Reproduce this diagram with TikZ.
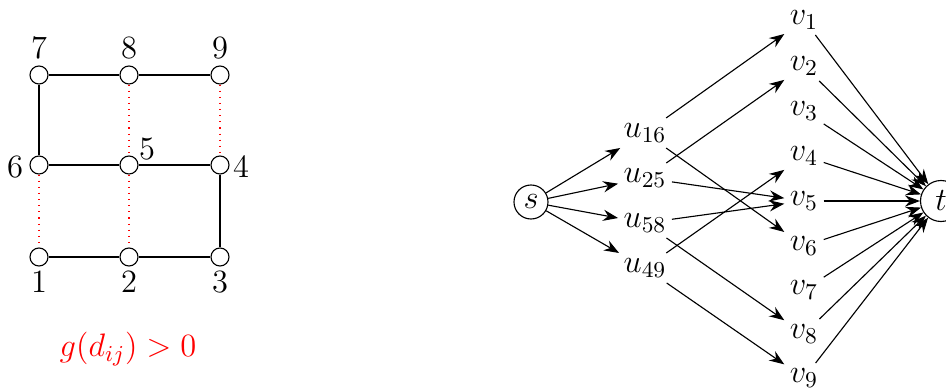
\RequirePackage{fix-cm}
\documentclass[tikz,border=0pt]{standalone}
\usetikzlibrary{arrows.meta}
\begin{document}
\begin{tikzpicture}[x=0.4pt,y=-0.4pt,font=\fontsize{13}{15.5}\selectfont,
  line width=0.45pt,
  gv/.style={circle,draw,minimum size=7.2pt,inner sep=0pt},
  tl/.style={inner sep=0pt},
  rdot/.style={draw=red,dotted},
  term/.style={circle,draw,minimum size=13.6pt,inner sep=0pt},
  tx/.style={inner sep=2pt},
  arr/.style={-{Stealth[length=6pt,width=4.5pt,inset=2pt]}}]
\useasboundingbox (0,0) rectangle (946,392);
% left grid
\node[gv] (n7) at (39,75) {};
\node[gv] (n8) at (129,75) {};
\node[gv] (n9) at (220,75) {};
\node[gv] (n6) at (39,165) {};
\node[gv] (n5) at (129,165) {};
\node[gv] (n4) at (220,165) {};
\node[gv] (n1) at (39,257) {};
\node[gv] (n2) at (129,257) {};
\node[gv] (n3) at (220,257) {};
\node[tl] (l7) at (39,48) {7};
\node[tl] (l8) at (129,48) {8};
\node[tl] (l9) at (220,48) {9};
\node[tl] (l6) at (15,167) {6};
\node[tl] (l5) at (147,149) {5};
\node[tl] (l4) at (241,167) {4};
\node[tl] (l1) at (39,282) {1};
\node[tl] (l2) at (129,282) {2};
\node[tl] (l3) at (220,282) {3};
\draw (n7) -- (n8);
\draw (n8) -- (n9);
\draw (n7) -- (n6);
\draw (n6) -- (n5);
\draw (n5) -- (n4);
\draw (n4) -- (n3);
\draw (n1) -- (n2);
\draw (n2) -- (n3);
\draw[rdot] (n8) -- (n5);
\draw[rdot] (n9) -- (n4);
\draw[rdot] (n6) -- (n1);
\draw[rdot] (n5) -- (n2);
\node[text=red] (g) at (128,349) {$g(d_{ij})>0$};
% right graph
\node[term] (s) at (531,202) {$s$};
\node[term,minimum size=16.4pt] (t) at (941,201) {$t$};
\node[tx] (u16) at (645,133) {$u_{16}$};
\node[tx] (u25) at (645,178) {$u_{25}$};
\node[tx] (u58) at (645,223) {$u_{58}$};
\node[tx] (u49) at (645,268) {$u_{49}$};
\node[tx] (v1) at (804,20) {$v_1$};
\node[tx] (v2) at (804,66) {$v_2$};
\node[tx] (v3) at (804,111) {$v_3$};
\node[tx] (v4) at (804,156) {$v_4$};
\node[tx] (v5) at (804,201) {$v_5$};
\node[tx] (v6) at (804,246) {$v_6$};
\node[tx] (v7) at (804,290) {$v_7$};
\node[tx] (v8) at (804,334) {$v_8$};
\node[tx] (v9) at (804,378) {$v_9$};
\foreach \u in {u16,u25,u58,u49} \draw[arr] (s) -- (\u);
\draw[arr] (u16) -- (v1);
\draw[arr] (u16) -- (v6);
\draw[arr] (u25) -- (v2);
\draw[arr] (u25) -- (v5);
\draw[arr] (u58) -- (v5);
\draw[arr] (u58) -- (v8);
\draw[arr] (u49) -- (v4);
\draw[arr] (u49) -- (v9);
\foreach \v in {v1,v2,v3,v4,v5,v6,v7,v8,v9} \draw[arr] (\v) -- (t);
\end{tikzpicture}
\end{document}
